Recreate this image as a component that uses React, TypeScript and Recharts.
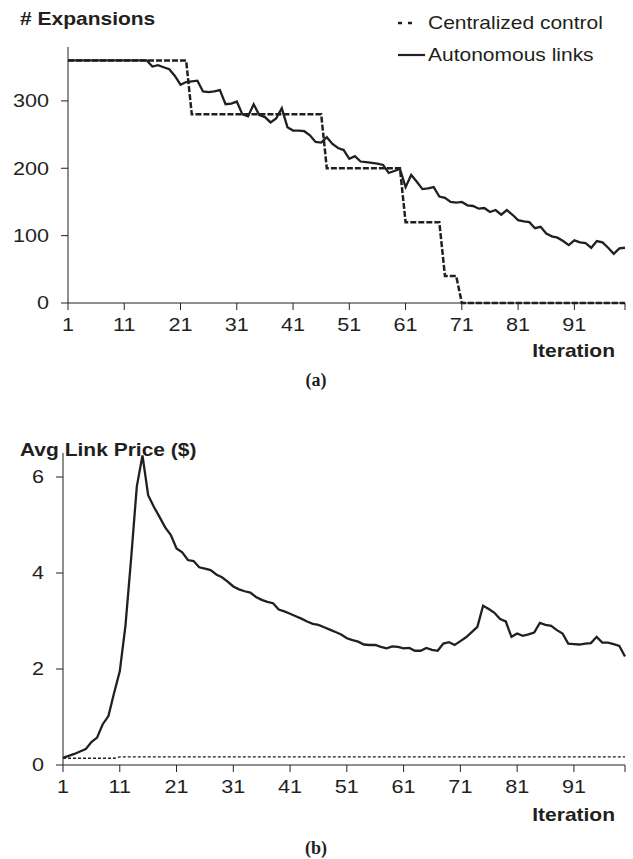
import React from "react";
import { Line, LineChart, XAxis, YAxis } from "recharts";

// Iteration numbers (x categories)
const iterations = Array.from({ length: 100 }, (_, i) => i + 1);

// (a) number of expansions
const expansionsCentral = [
  360, 360, 360, 360, 360, 360, 360, 360, 360, 360,
  360, 360, 360, 360, 360, 360, 360, 360, 360, 360,
  360, 360, 280, 280, 280, 280, 280, 280, 280, 280,
  280, 280, 280, 280, 280, 280, 280, 280, 280, 280,
  280, 280, 280, 280, 280, 280, 200, 200, 200, 200,
  200, 200, 200, 200, 200, 200, 200, 200, 200, 200,
  120, 120, 120, 120, 120, 120, 120, 40, 40, 40,
  0, 0, 0, 0, 0, 0, 0, 0, 0, 0,
  0, 0, 0, 0, 0, 0, 0, 0, 0, 0,
  0, 0, 0, 0, 0, 0, 0, 0, 0, 0,
];
const expansionsAuto = [
  360, 360, 360, 360, 360, 360, 360, 360, 360, 360,
  360, 360, 360, 360, 360, 351, 353, 350, 347, 337,
  324, 328, 329, 330, 314, 313, 314, 316, 295, 296,
  299, 280, 277, 295, 279, 276, 268, 274, 289, 261,
  256, 256, 255, 249, 239, 238, 246, 236, 230, 227,
  214, 218, 210, 209, 208, 207, 205, 193, 196, 199,
  172, 190, 180, 169, 170, 172, 158, 156, 150, 149,
  150, 145, 144, 140, 141, 135, 138, 131, 138, 131,
  123, 121, 120, 111, 113, 103, 99, 97, 92, 86,
  93, 90, 89, 82, 92, 90, 82, 73, 81, 82,
];
const expansionTicks = [0, 100, 200, 300];

// (b) average link price
const priceCentral = [
  0.14, 0.14, 0.14, 0.14, 0.14, 0.14, 0.14, 0.14, 0.14, 0.14,
  0.17, 0.17, 0.17, 0.17, 0.17, 0.17, 0.17, 0.17, 0.17, 0.17,
  0.17, 0.17, 0.17, 0.17, 0.17, 0.17, 0.17, 0.17, 0.17, 0.17,
  0.17, 0.17, 0.17, 0.17, 0.17, 0.17, 0.17, 0.17, 0.17, 0.17,
  0.17, 0.17, 0.17, 0.17, 0.17, 0.17, 0.17, 0.17, 0.17, 0.17,
  0.17, 0.17, 0.17, 0.17, 0.17, 0.17, 0.17, 0.17, 0.17, 0.17,
  0.17, 0.17, 0.17, 0.17, 0.17, 0.17, 0.17, 0.17, 0.17, 0.17,
  0.17, 0.17, 0.17, 0.17, 0.17, 0.17, 0.17, 0.17, 0.17, 0.17,
  0.17, 0.17, 0.17, 0.17, 0.17, 0.17, 0.17, 0.17, 0.17, 0.17,
  0.17, 0.17, 0.17, 0.17, 0.17, 0.17, 0.17, 0.17, 0.17, 0.17,
];
const priceAuto = [
  0.15, 0.19, 0.23, 0.28, 0.33, 0.48, 0.57, 0.85, 1.02, 1.5,
  1.95, 2.9, 4.3, 5.8, 6.45, 5.62, 5.38, 5.17, 4.95, 4.79,
  4.51, 4.43, 4.27, 4.25, 4.12, 4.09, 4.06, 3.97, 3.91, 3.82,
  3.72, 3.66, 3.62, 3.59, 3.5, 3.44, 3.4, 3.37, 3.24, 3.2,
  3.15, 3.1, 3.05, 2.99, 2.94, 2.92, 2.87, 2.82, 2.77, 2.72,
  2.64, 2.6, 2.57, 2.51, 2.5, 2.5, 2.46, 2.43, 2.47, 2.46,
  2.43, 2.44, 2.38, 2.38, 2.44, 2.4, 2.38, 2.53, 2.56, 2.5,
  2.58, 2.66, 2.77, 2.88, 3.32, 3.25, 3.17, 3.04, 2.99, 2.67,
  2.74, 2.69, 2.72, 2.76, 2.96, 2.92, 2.9, 2.81, 2.74, 2.53,
  2.52, 2.51, 2.53, 2.54, 2.67, 2.55, 2.55, 2.52, 2.48, 2.26,
];
const priceTicks = [0, 2, 4, 6];

const iterationTicks = [1, 11, 21, 31, 41, 51, 61, 71, 81, 91, 100];

const expansionData = iterations.map((it, i) => ({
  it,
  central: expansionsCentral[i],
  auto: expansionsAuto[i],
}));
const priceData = iterations.map((it, i) => ({
  it,
  central: priceCentral[i],
  auto: priceAuto[i],
}));

const INK = "#231f20";
const FONT = "'Liberation Sans', Arial, sans-serif";
const SERIF = "'Liberation Serif', 'DejaVu Serif', serif";

// the original figure is stretched a bit horizontally
const XTick = (props: any) => {
  const { x, y, payload } = props;
  if (payload.value === 100) return <g />;
  return (
    <text
      transform={`translate(${x},${y + 13}) scale(1.2,1)`}
      textAnchor="middle"
      dominantBaseline="central"
      fontSize={18}
      fontFamily={FONT}
      fill={INK}
    >
      {payload.value}
    </text>
  );
};

const YTick = (props: any) => {
  const { x, y, payload } = props;
  return (
    <text
      transform={`translate(${x - 10},${y}) scale(1.2,1)`}
      textAnchor="end"
      dominantBaseline="central"
      fontSize={18}
      fontFamily={FONT}
      fill={INK}
    >
      {payload.value}
    </text>
  );
};

const Label = ({ x, y, children, bold = false, anchor = "start", size = 17, family = FONT, sx = 1.2 }: any) => (
  <text
    transform={`translate(${x},${y}) scale(${sx},1)`}
    textAnchor={anchor}
    dominantBaseline="central"
    fontSize={size}
    fontWeight={bold ? "bold" : "normal"}
    fontFamily={family}
    fill={INK}
  >
    {children}
  </text>
);

const App = () => {
  return (
    <div style={{ position: "absolute", left: 0, top: 0, width: 633, height: 859, background: "#fff" }}>
      <div style={{ position: "absolute", left: 0, top: 0 }}>
        <LineChart width={633} height={340} data={expansionData} margin={{ top: 47, right: 8, left: 8, bottom: 5 }}>
          <XAxis
            dataKey="it"
            type="number"
            domain={[1, 100]}
            ticks={iterationTicks}
            interval={0}
            tickSize={7}
            stroke={INK}
            tick={<XTick />}
            height={32}
          />
          <YAxis
            type="number"
            domain={[0, 380]}
            ticks={expansionTicks}
            interval={0}
            tickSize={7}
            stroke={INK}
            tick={<YTick />}
            width={60}
          />
          <Line
            type="linear"
            dataKey="central"
            stroke={INK}
            strokeWidth={2.5}
            strokeDasharray="6 2"
            dot={false}
            isAnimationActive={false}
          />
          <Line
            type="linear"
            dataKey="auto"
            stroke={INK}
            strokeWidth={2.3}
            dot={false}
            isAnimationActive={false}
          />
        </LineChart>
      </div>

      <div style={{ position: "absolute", left: 0, top: 420 }}>
        <LineChart width={633} height={380} data={priceData} margin={{ top: 33, right: 8, left: 8, bottom: 5 }}>
          <XAxis
            dataKey="it"
            type="number"
            domain={[1, 100]}
            ticks={iterationTicks}
            interval={0}
            tickSize={7}
            stroke={INK}
            tick={<XTick />}
            height={30}
          />
          <YAxis
            type="number"
            domain={[0, 6.5]}
            ticks={priceTicks}
            interval={0}
            tickSize={7}
            stroke={INK}
            tick={<YTick />}
            width={55}
          />
          <Line
            type="linear"
            dataKey="central"
            stroke={INK}
            strokeWidth={1.4}
            strokeDasharray="3 2"
            dot={false}
            isAnimationActive={false}
          />
          <Line
            type="linear"
            dataKey="auto"
            stroke={INK}
            strokeWidth={2.3}
            dot={false}
            isAnimationActive={false}
          />
        </LineChart>
      </div>

      <svg width={633} height={859} style={{ position: "absolute", left: 0, top: 0, pointerEvents: "none" }}>
        <Label x={20} y={19} bold size={17.5}># Expansions</Label>
        <line x1={398} x2={415} y1={23} y2={23} stroke={INK} strokeWidth={2.5} strokeDasharray="4 6" />
        <Label x={428} y={23} size={17.5}>Centralized control</Label>
        <line x1={398} x2={425} y1={55} y2={55} stroke={INK} strokeWidth={2.2} />
        <Label x={428} y={55} size={17.5}>Autonomous links</Label>
        <Label x={615} y={351} bold anchor="end" size={17.5}>Iteration</Label>
        <Label x={316} y={380} bold anchor="middle" size={18} family={SERIF} sx={1}>(a)</Label>

        <Label x={20} y={450} bold size={17.5}>Avg Link Price ($)</Label>
        <Label x={615} y={815} bold anchor="end" size={17.5}>Iteration</Label>
        <Label x={316} y={848} bold anchor="middle" size={18} family={SERIF} sx={1}>(b)</Label>
      </svg>
    </div>
  );
};

export default App;
